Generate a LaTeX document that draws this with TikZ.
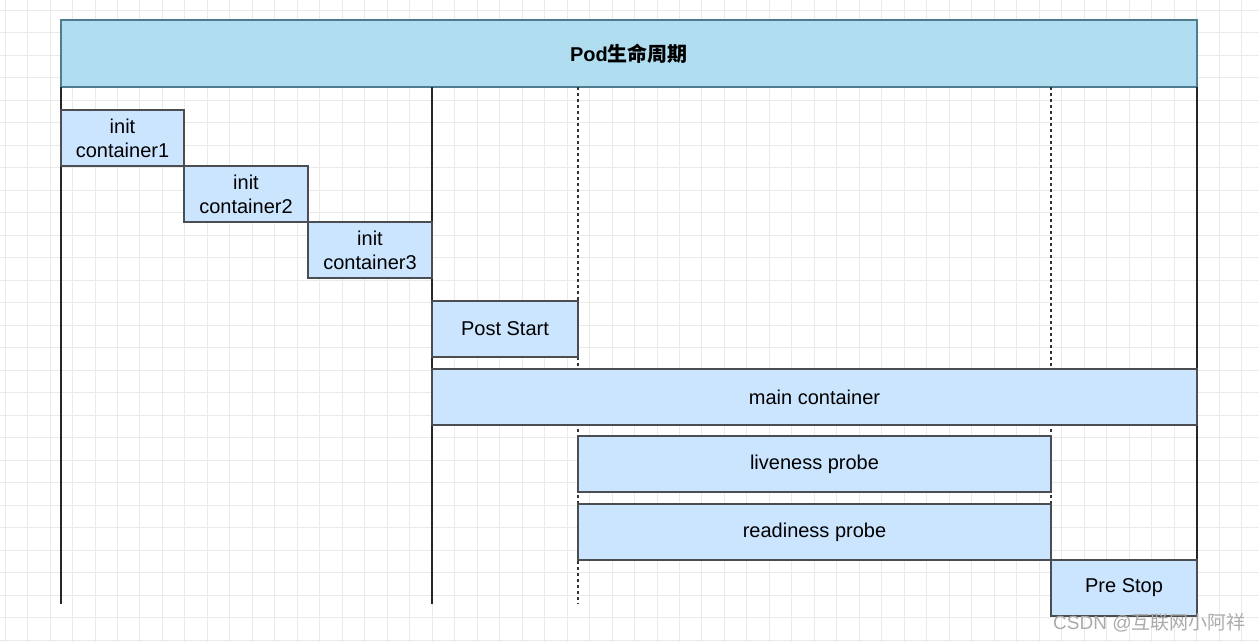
\documentclass[tikz,border=0pt]{standalone}
\usepackage{fontspec}
\setmainfont{Liberation Sans}
\newfontfamily\cjk{Noto Sans CJK SC}
\definecolor{titlefill}{HTML}{B1DDF0}
\definecolor{titledraw}{HTML}{4F7D8F}
\definecolor{boxfill}{HTML}{CCE5FF}
\definecolor{boxdraw}{HTML}{4A4D52}
\definecolor{gridc}{HTML}{EAEAEA}
\definecolor{marktext}{HTML}{ABABAB}
\begin{document}
\begin{tikzpicture}[x=1pt,y=-1pt,
  stagebox/.style={draw=boxdraw,fill=boxfill,line width=1.3pt,inner sep=0pt,outer sep=0pt,
    anchor=north west,align=center,font=\fontsize{20}{24}\selectfont},
  titlebox/.style={draw=titledraw,fill=titlefill,line width=1.1pt,inner sep=0pt,outer sep=0pt,
    anchor=north west,font=\fontsize{20}{24}\selectfont\bfseries},
  lifeline/.style={draw=black!85,line width=1.6pt},
  dashline/.style={draw=black!80,line width=1.1pt,dash pattern=on 3pt off 3pt}]
\useasboundingbox (0,0) rectangle (1259,642);
\fill[white] (0,0) rectangle (1259,642);
% grid
\foreach \i in {0,...,55} {\draw[gridc,line width=0.8pt] ({5+22.48*\i},0) -- ({5+22.48*\i},642);}
\foreach \j in {0,...,28} {\draw[gridc,line width=0.8pt] (0,{10+22.5*\j}) -- (1259,{10+22.5*\j});}
% title
\node[titlebox,minimum width=1136pt,minimum height=67pt] (title) at (61,20) {Pod{\cjk\bfseries 生命周期}};
% lifelines
\coordinate (a1) at (61,87);  \coordinate (b1) at (61,604);
\coordinate (a2) at (432,87); \coordinate (b2) at (432,604);
\coordinate (a3) at (578,87); \coordinate (b3) at (578,604);
\coordinate (a4) at (1051,87); \coordinate (b4) at (1051,560);
\coordinate (a5) at (1197,87); \coordinate (b5) at (1197,560);
\draw[lifeline] (a1) -- (b1);
\draw[lifeline] (a2) -- (b2);
\draw[dashline] (a3) -- (b3);
\draw[dashline] (a4) -- (b4);
\draw[lifeline] (a5) -- (b5);
% stages
\node[stagebox,minimum width=123pt,minimum height=56pt] (ic1) at (61,110) {init\\container1};
\node[stagebox,minimum width=124pt,minimum height=56pt] (ic2) at (184,166) {init\\container2};
\node[stagebox,minimum width=124pt,minimum height=56pt] (ic3) at (308,222) {init\\container3};
\node[stagebox,minimum width=146pt,minimum height=56pt] (post) at (432,301) {Post Start};
\node[stagebox,minimum width=765pt,minimum height=56pt] (main) at (432,369) {main container};
\node[stagebox,minimum width=473pt,minimum height=56pt] (live) at (578,436) {liveness probe};
\node[stagebox,minimum width=473pt,minimum height=56pt] (ready) at (578,504) {readiness probe};
\node[stagebox,minimum width=146pt,minimum height=56pt] (pre) at (1051,560) {Pre Stop};
% watermark
\node[anchor=west,inner sep=0pt,text=marktext,font=\fontsize{19}{22}\selectfont] (mark) at (1053,623) {CSDN @{\cjk 互联网小阿祥}};
\end{tikzpicture}
\end{document}
